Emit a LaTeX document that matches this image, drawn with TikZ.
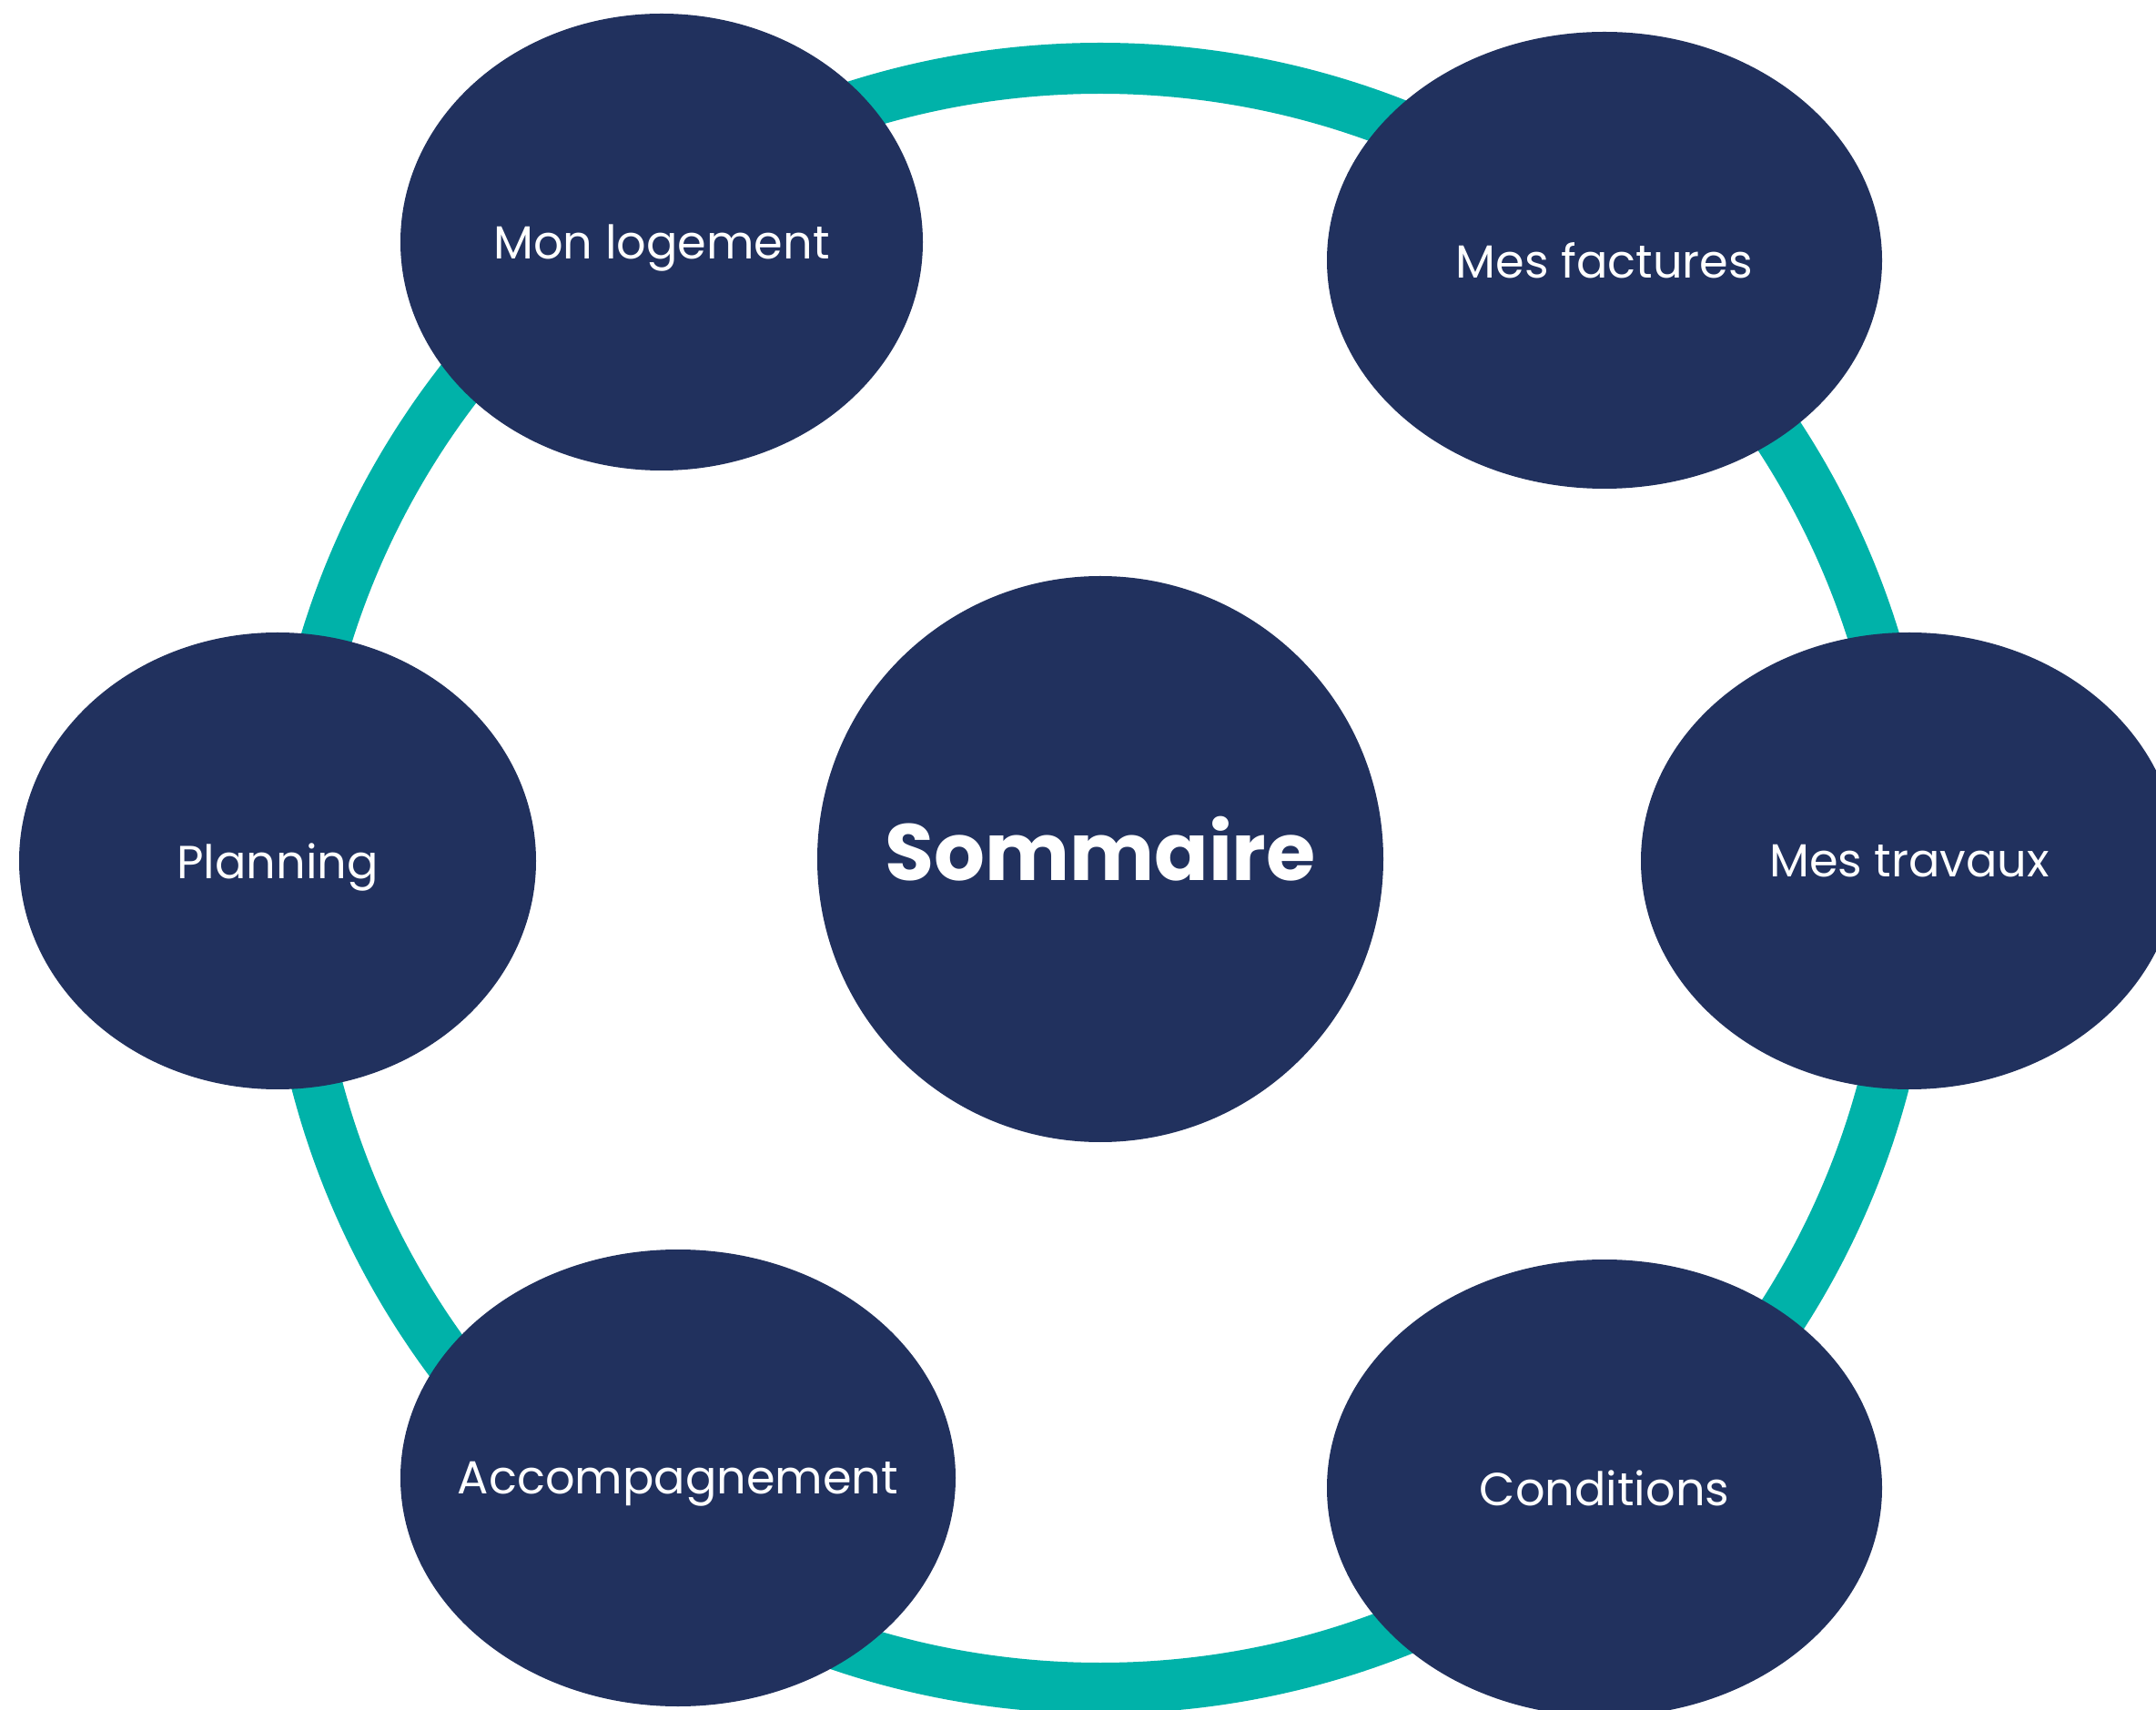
\documentclass[tikz,border=0pt]{standalone}
\usepackage{fontspec}
\setmainfont{Poppins}
\usepackage{tikz}
\usetikzlibrary{shapes.geometric}

\definecolor{navy}{HTML}{21315E}
\definecolor{teal}{HTML}{00B2A9}

\tikzset{
  topic/.style={ellipse, fill=navy, text=white, inner sep=0pt, inner xsep=-0.4cm,
    text depth=0pt, minimum height=5.02cm, font=\fontsize{14.5}{17}\selectfont},
  hub/.style={circle, fill=navy, text=white, inner sep=0pt,
    minimum size=6.22cm, font=\bfseries\fontsize{25}{30}\selectfont},
  ring/.style={draw=teal, line width=0.56cm}
}

\begin{document}
\begin{tikzpicture}
  \useasboundingbox (0,0) rectangle (23.69,18.78);
  \clip (0,0) rectangle (23.69,18.78);

  % Ring around the topics
  \coordinate (ringcenter) at (12.09,9.13);
  \draw[ring] (ringcenter) circle (8.90);

  % Centre
  \node[hub] (sommaire) at (12.09,9.34) {\raisebox{0.23cm}{Sommaire}};

  % Topics
  \node[topic, minimum width=5.74cm] (logement) at (7.27,16.12) {Mon logement};
  \node[topic, minimum width=6.10cm] (factures) at (17.63,15.92) {Mes factures};
  \node[topic, minimum width=5.68cm] (planning) at (3.05,9.32) {Planning};
  \node[topic, minimum width=5.90cm] (travaux) at (20.98,9.32) {Mes travaux};
  \node[topic, minimum width=6.10cm] (accompagnement) at (7.45,2.54) {Accompagnement};
  \node[topic, minimum width=6.10cm] (conditions) at (17.63,2.43) {Conditions};
\end{tikzpicture}
\end{document}
